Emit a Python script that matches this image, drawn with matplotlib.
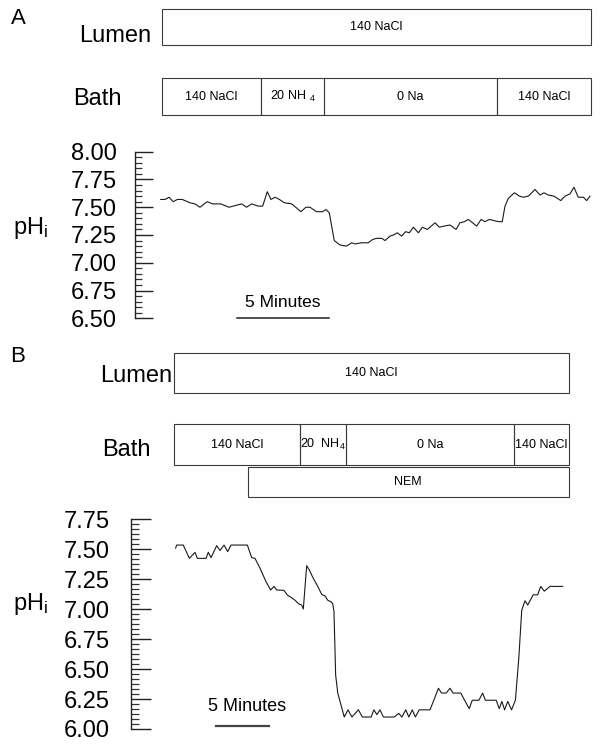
import numpy as np
import matplotlib
matplotlib.use('Agg')
import matplotlib.pyplot as plt
from matplotlib.ticker import MultipleLocator, FormatStrFormatter

plt.rcParams['font.family'] = ['Liberation Sans', 'DejaVu Sans']
plt.rcParams['mathtext.fontset'] = 'custom'
plt.rcParams['mathtext.rm'] = 'Liberation Sans'
plt.rcParams['mathtext.it'] = 'Liberation Sans'

# ---- panel A : time [min], pHi ----
time_a = [0.04, 0.27, 0.49, 0.72, 0.94, 1.21, 1.63, 1.90, 2.17, 2.57, 2.86, 3.30,
          3.75, 4.20, 4.44, 4.71, 4.98, 5.34, 5.58, 5.83, 6.03, 6.25, 6.49, 6.76,
          7.16, 7.66, 7.93, 8.15, 8.51, 8.84, 9.02, 9.20, 9.33, 9.47, 9.78, 10.14,
          10.42, 10.60, 10.96, 11.32, 11.56, 11.78, 12.05, 12.23, 12.50, 12.68,
          12.90, 13.13, 13.35, 13.55, 13.77, 14.04, 14.26, 14.53, 14.95, 15.18,
          15.43, 15.76, 16.09, 16.30, 16.54, 16.76, 16.99, 17.21, 17.45, 17.66,
          17.90, 18.15, 18.39, 18.60, 18.75, 18.93, 19.26, 19.53, 19.75, 20.02,
          20.38, 20.65, 20.87, 21.10, 21.41, 21.78, 22.01, 22.28, 22.50, 22.73,
          23.01, 23.19, 23.37]
ph_a = [7.57, 7.57, 7.59, 7.55, 7.57, 7.57, 7.54, 7.53, 7.50, 7.55, 7.53, 7.53,
        7.50, 7.52, 7.53, 7.50, 7.53, 7.51, 7.51, 7.64, 7.57, 7.59, 7.57, 7.54,
        7.53, 7.46, 7.50, 7.50, 7.46, 7.46, 7.48, 7.45, 7.33, 7.20, 7.16, 7.15,
        7.18, 7.17, 7.18, 7.18, 7.21, 7.22, 7.22, 7.20, 7.24, 7.25,
        7.27, 7.24, 7.28, 7.27, 7.32, 7.27, 7.32, 7.30, 7.36, 7.32,
        7.33, 7.34, 7.30, 7.36, 7.37, 7.39, 7.36, 7.33, 7.39, 7.37,
        7.39, 7.38, 7.37, 7.37, 7.51, 7.58, 7.63, 7.60, 7.59, 7.60,
        7.66, 7.61, 7.63, 7.61, 7.60, 7.56, 7.60, 7.62, 7.68, 7.59,
        7.59, 7.56, 7.60]

lumen_a_edges = [0.11, 23.42]
lumen_a_labels = ['140 NaCl']
bath_a_edges = [0.11, 5.49, 8.91, 18.32, 23.42]
bath_a_labels = ['140 NaCl', r'20 NH $_{4}$', '0 Na', '140 NaCl']
yticks_a = [6.50, 6.75, 7.00, 7.25, 7.50, 7.75, 8.00]
scalebar_a = [4.16, 9.16]

# ---- panel B ----
time_b = [0.06, 0.16, 0.79, 1.37, 1.90, 2.13, 2.95, 3.17, 3.43, 3.97, 4.29, 4.67,
          5.02, 5.33, 6.89, 7.30, 7.62, 8.10, 8.67, 9.11, 9.43, 9.68, 10.38, 10.70,
          11.11, 11.43, 11.75, 12.06, 12.22, 12.54, 12.79, 13.17, 13.56, 13.97,
          14.29, 14.54, 14.86, 15.02, 15.14, 15.30, 15.50, 16.12, 16.48, 16.85,
          17.47, 17.84, 18.68, 18.94, 19.23, 19.52, 19.85, 20.87, 21.31, 21.61,
          21.98, 22.27, 22.60, 22.89, 23.26, 24.29, 25.09, 25.38, 25.82, 26.19,
          26.48, 27.22, 27.58, 28.02, 28.31, 28.94, 29.30, 29.56, 30.59, 30.88,
          31.13, 31.39, 31.69, 32.05, 32.42, 32.75, 33.02, 33.33, 33.59, 34.12,
          34.54, 34.83, 35.17, 35.71, 36.92]
ph_b = [7.51, 7.535, 7.535, 7.424, 7.474, 7.424, 7.424, 7.474, 7.43, 7.53, 7.49, 7.535,
        7.48, 7.535, 7.535, 7.43, 7.424, 7.341, 7.229, 7.16, 7.19, 7.16, 7.157, 7.118,
        7.095, 7.075, 7.046, 7.035, 7.001, 7.363, 7.327, 7.257, 7.196, 7.124,
        7.11, 7.075, 7.061, 7.047, 6.98, 6.45, 6.30, 6.10, 6.16, 6.10,
        6.16, 6.10, 6.10, 6.16, 6.12, 6.16, 6.10, 6.10, 6.13, 6.10,
        6.16, 6.10, 6.16, 6.10, 6.16, 6.16, 6.34, 6.30, 6.30, 6.34,
        6.30, 6.30, 6.24, 6.17, 6.24, 6.24, 6.30, 6.24, 6.24, 6.17,
        6.23, 6.16, 6.23, 6.16, 6.24, 6.60, 6.99, 7.07, 7.035, 7.12,
        7.12, 7.19, 7.15, 7.19, 7.19]

lumen_b_edges = [-0.14, 37.52]
lumen_b_labels = ['140 NaCl']
bath_b_edges = [-0.14, 11.90, 16.29, 32.29, 37.52]
bath_b_labels = ['140 NaCl', r'20  NH$_{4}$', '0 Na', '140 NaCl']
nem_b_edges = [6.95, 37.48]
nem_b_labels = ['NEM']
yticks_b = [6.00, 6.25, 6.50, 6.75, 7.00, 7.25, 7.50, 7.75]
scalebar_b = [3.95, 8.95]

W, H = 602, 744
fig = plt.figure(figsize=(W / 100, H / 100), dpi=100)


def px_axes(x0, x1, y0, y1, **kw):
    # box given in image pixels (origin top left)
    return fig.add_axes([x0 / W, 1 - y1 / H, (x1 - x0) / W, (y1 - y0) / H], **kw)


def stripe(ax_ph, x0, x1, y0, y1, edges, labels, name=None, name_x=None, name_base=None):
    ax = px_axes(x0, x1, y0, y1, sharex=ax_ph)
    ax.set_ylim(0, 1)
    ax.axis('off')
    left = np.array(edges[:-1])
    right = np.array(edges[1:])
    ax.barh(0.5, right - left, left=left, height=1, fill=False,
            edgecolor='#3a3a3a', linewidth=0.8, clip_on=False)
    for l, r, lab in zip(left, right, labels):
        ax.text((l + r) / 2, 0.5, lab, ha='center', va='center', fontsize=9)
    if name:
        fig.text(name_x / W, 1 - name_base / H, name, ha='right', va='baseline', fontsize=17)
    return ax


def ph_axes(x0, x1, y0, y1, xlim, ylim, yticks, minor, pad, major_len, minor_len):
    ax = px_axes(x0, x1, y0, y1)
    ax.set_xlim(*xlim)
    ax.set_ylim(*ylim)
    for s in ['top', 'right', 'bottom']:
        ax.spines[s].set_visible(False)
    ax.spines['left'].set_linewidth(1.0)
    ax.spines['left'].set_color('#222222')
    ax.set_xticks([])
    ax.set_yticks(yticks)
    ax.yaxis.set_major_formatter(FormatStrFormatter('%.2f'))
    ax.yaxis.set_minor_locator(MultipleLocator(minor))
    ax.tick_params(axis='y', which='major', direction='in', length=major_len, width=1.0,
                   pad=pad, labelsize=17, color='#222222')
    ax.tick_params(axis='y', which='minor', direction='in', length=minor_len, width=0.9,
                   color='#333333')
    ax.patch.set_alpha(0)
    return ax


# ---------------- panel A ----------------
axa = ph_axes(135, 600, 151.7, 318.3, ((135 - 160) / 18.4, (600 - 160) / 18.4),
              (6.50, 8.00), yticks_a, 0.05, 13, 13, 5)
axa.plot(time_a, ph_a, color='#1a1a1a', lw=0.8)
axa.plot(scalebar_a, [6.50, 6.50], color='#222222', lw=1.1, clip_on=False)
axa.annotate('5 Minutes', xy=(np.mean(scalebar_a), 6.50), xytext=(0, 6),
             textcoords='offset points', ha='center', va='bottom', fontsize=12.5)
axa.set_ylabel(r'pH$_{\mathrm{i}}$', rotation=0, fontsize=17, ha='center', va='center')
axa.yaxis.set_label_coords((31 - 135) / 465, (318.3 - 228) / 166.6)

stripe(axa, 135, 600, 9, 45, lumen_a_edges, lumen_a_labels, 'Lumen', 151, 42)
stripe(axa, 135, 600, 78, 115, bath_a_edges, bath_a_labels, 'Bath', 122, 105)
fig.text(18 / W, 1 - 18 / H, 'A', ha='center', va='center', fontsize=16)

# ---------------- panel B ----------------
axb = ph_axes(130.7, 600, 519.3, 729, ((130.7 - 175) / 10.5, (600 - 175) / 10.5),
              (6.00, 7.75), yticks_b, 0.25 / 6, 15, 14.5, 6)
axb.plot(time_b, ph_b, color='#1a1a1a', lw=0.8)
axb.plot(scalebar_b, [6.025, 6.025], color='#444444', lw=1.6, clip_on=False)
axb.annotate('5 Minutes', xy=(np.mean(scalebar_b), 6.025), xytext=(3, 8),
             textcoords='offset points', ha='center', va='bottom', fontsize=13)
axb.set_ylabel(r'pH$_{\mathrm{i}}$', rotation=0, fontsize=17, ha='center', va='center')
axb.yaxis.set_label_coords((31 - 130.7) / 469.3, (729 - 604) / 209.7)

stripe(axb, 130.7, 600, 353.3, 393.3, lumen_b_edges, lumen_b_labels, 'Lumen', 172, 382)
stripe(axb, 130.7, 600, 424.3, 465, bath_b_edges, bath_b_labels, 'Bath', 151, 456)
stripe(axb, 130.7, 600, 466.7, 496.7, nem_b_edges, nem_b_labels)
fig.text(18 / W, 1 - 356 / H, 'B', ha='center', va='center', fontsize=16)

fig.savefig('out.png', dpi=100)
